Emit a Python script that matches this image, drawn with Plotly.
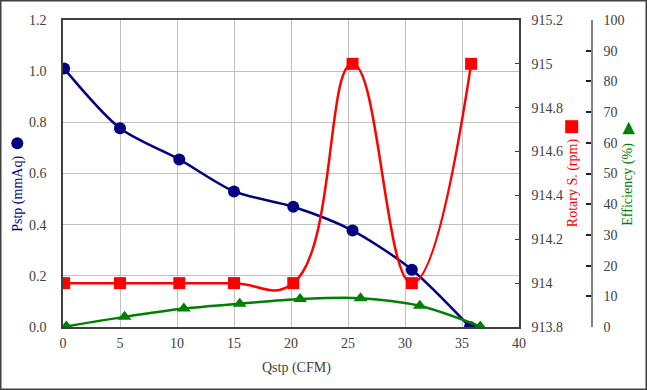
import plotly.graph_objects as go

# ---- data ----
q_pstp = [0.1, 5.0, 10.2, 15.0, 20.2, 25.4, 30.6, 35.7]
pstp = [1.01, 0.777, 0.655, 0.530, 0.470, 0.377, 0.224, 0.0]
q_rot = [0.1, 5.0, 10.2, 15.0, 20.2, 25.4, 30.6, 35.8]
rotary = [914, 914, 914, 914, 914, 915, 914, 915]
q_eff = [0.3, 5.4, 10.6, 15.5, 20.8, 26.1, 31.3, 36.6]
eff = [0.2, 3.3, 6.0, 7.6, 9.1, 9.4, 6.9, 0.2]

FONT = "Liberation Serif"
TXT = "#404040"
NAVY = "#000080"
RED = "#FF0000"
GREEN = "#008000"

L, R, T, B = 63, 47, 20, 63
W, H = 647, 390
PW = W - L - R
PH = H - T - B
plot_w = 456


def px(x):
    return (x - L) / PW


def py(y):
    return (H - B - y) / PH


fig = go.Figure()
fig.add_trace(go.Scatter(x=q_pstp, y=pstp, mode="lines+markers", yaxis="y",
                         line=dict(color=NAVY, width=2.5, shape="spline", smoothing=0.8),
                         marker=dict(symbol="circle", size=12, color=NAVY)))
fig.add_trace(go.Scatter(x=q_rot, y=rotary, mode="lines+markers", yaxis="y2",
                         line=dict(color=RED, width=2.5, shape="spline", smoothing=1.3),
                         marker=dict(symbol="square", size=12, color=RED)))
fig.add_trace(go.Scatter(x=q_eff, y=eff, mode="lines+markers", yaxis="y3",
                         line=dict(color=GREEN, width=2.5, shape="spline", smoothing=0.8),
                         marker=dict(symbol="triangle-up", size=12, color=GREEN)))

axfont = dict(family=FONT, size=14, color=TXT)
fig.update_layout(
    width=W, height=H,
    margin=dict(l=L, r=R, t=T, b=B, autoexpand=False),
    paper_bgcolor="white", plot_bgcolor="white",
    showlegend=False,
    font=dict(family=FONT, size=14, color=TXT),
    xaxis=dict(domain=[0, plot_w / PW], range=[0, 40], dtick=5, tick0=0,
               showgrid=True, gridcolor="#C0C0C0", gridwidth=1, automargin=False,
               showline=True, linecolor="#404040", linewidth=1.5, mirror=True,
               ticks="", tickfont=axfont, zeroline=False, ticklabelstandoff=2),
    yaxis=dict(range=[0, 1.2], dtick=0.2, tick0=0, tickformat=".1f", automargin=False,
               showgrid=True, gridcolor="#C0C0C0", gridwidth=1,
               showline=True, linecolor="#404040", linewidth=1.5,
               ticks="", tickfont=axfont, zeroline=False, ticklabelstandoff=12),
    yaxis2=dict(range=[913.8, 915.2], dtick=0.2, tick0=913.8, overlaying="y", side="right",
                anchor="x", showgrid=False, zeroline=False, automargin=False,
                showline=True, linecolor="#404040", linewidth=1.5,
                ticks="inside", ticklen=4, tickcolor="#404040",
                tickfont=axfont, ticklabelstandoff=8),
    yaxis3=dict(range=[0, 100], dtick=10, tick0=0, overlaying="y", side="right",
                anchor="free", position=px(592), showgrid=False, zeroline=False,
                automargin=False,
                showline=True, linecolor="#808080", linewidth=1.5,
                ticks="inside", ticklen=5, tickcolor="#202020", tickwidth=1.5,
                tickfont=axfont, ticklabelstandoff=8),
)

ann = [
    dict(text="Pstp (mmAq)", x=px(17.3), y=py(193.5), color=NAVY),
    dict(text="Rotary S. (rpm)", x=px(572.7), y=py(182.5), color=RED),
    dict(text="Efficiency (%)", x=px(628.5), y=py(184.2), color=GREEN),
]
for a in ann:
    fig.add_annotation(text=a["text"], x=a["x"], y=a["y"], xref="paper", yref="paper",
                       textangle=-90, showarrow=False, xanchor="center", yanchor="middle",
                       font=dict(family=FONT, size=14, color=a["color"]))
fig.add_annotation(text="Qstp (CFM)", x=px(296.3), y=py(368.3), xref="paper", yref="paper",
                   showarrow=False, xanchor="center", yanchor="middle",
                   font=dict(family=FONT, size=14, color=TXT))

# legend-like symbols next to axis titles
fig.add_shape(type="circle", xref="paper", yref="paper", xsizemode="pixel", ysizemode="pixel",
              xanchor=px(17.3), yanchor=py(143.3), x0=-6, x1=6, y0=-6, y1=6,
              fillcolor=NAVY, line=dict(width=0))
fig.add_shape(type="rect", xref="paper", yref="paper", xsizemode="pixel", ysizemode="pixel",
              xanchor=px(571.7), yanchor=py(126.7), x0=-6.5, x1=6.5, y0=-6.5, y1=6.5,
              fillcolor=RED, line=dict(width=0))
fig.add_shape(type="path", xref="paper", yref="paper", xsizemode="pixel", ysizemode="pixel",
              xanchor=px(628.7), yanchor=py(128.0), path="M -6.2 -6.3 L 6.2 -6.3 L 0 6.3 Z",
              fillcolor=GREEN, line=dict(width=0))
# outer chart border
fig.add_shape(type="rect", xref="paper", yref="paper",
              x0=px(0.75), x1=px(646.25), y0=py(389.25), y1=py(0.75),
              line=dict(color="#404040", width=1.5), layer="below")

fig.write_html("out.html", config={"displayModeBar": False},
               post_script="document.body.style.margin='0';document.body.style.overflow='hidden';")
